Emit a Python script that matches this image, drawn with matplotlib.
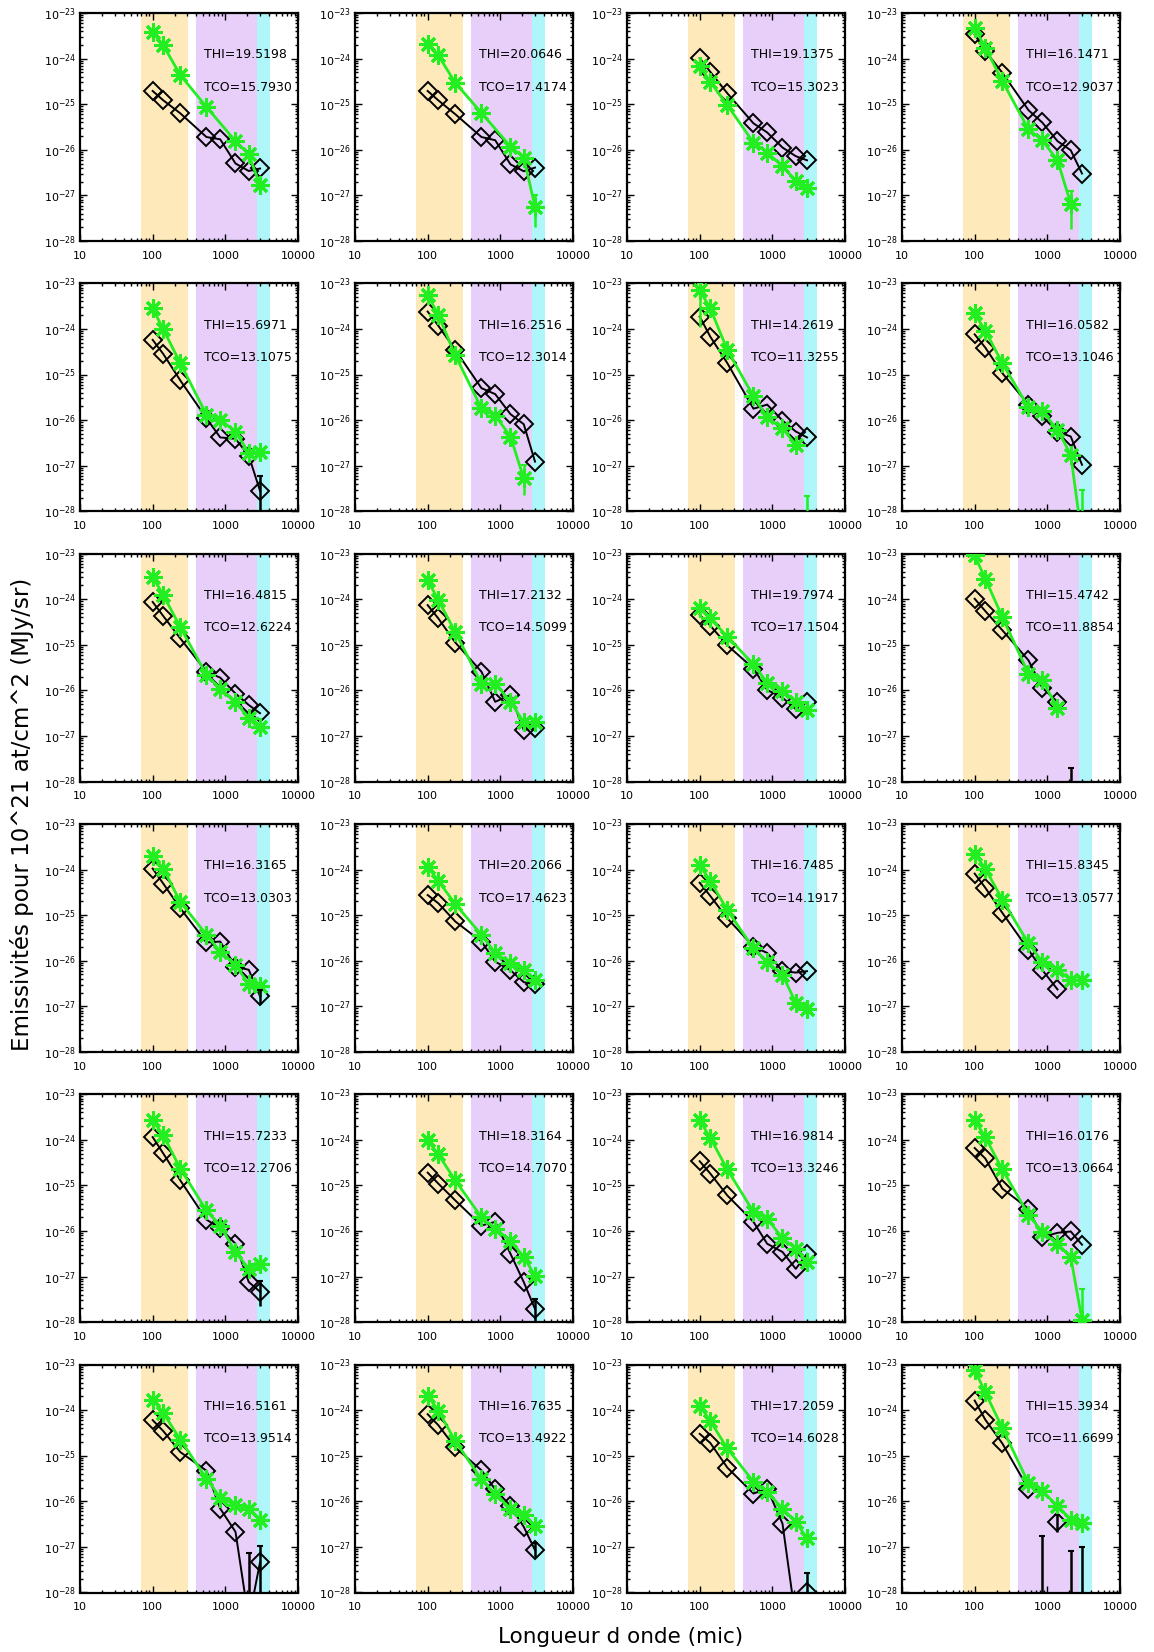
import numpy as np
import matplotlib
matplotlib.use("Agg")
import matplotlib.pyplot as plt
from matplotlib.ticker import FuncFormatter, FixedLocator, NullFormatter

nan = np.nan

# Wavelengths (microns)
WAVELENGTHS = [100, 140, 240, 550, 850, 1380, 2100, 3000]

# Axis ticks
X_TICKS = [10, 100, 1000, 10000]
Y_TICK_EXPONENTS = [-28, -27, -26, -25, -24, -23]

# Fitted temperatures per panel
THI = [19.5198, 20.0646, 19.1375, 16.1471,
       15.6971, 16.2516, 14.2619, 16.0582,
       16.4815, 17.2132, 19.7974, 15.4742,
       16.3165, 20.2066, 16.7485, 15.8345,
       15.7233, 18.3164, 16.9814, 16.0176,
       16.5161, 16.7635, 17.2059, 15.3934]
TCO = [15.7930, 17.4174, 15.3023, 12.9037,
       13.1075, 12.3014, 11.3255, 13.1046,
       12.6224, 14.5099, 17.1504, 11.8854,
       13.0303, 17.4623, 14.1917, 13.0577,
       12.2706, 14.7070, 13.3246, 13.0664,
       13.9514, 13.4922, 14.6028, 11.6699]

# log10 of emissivities: black diamonds (nan = missing, line broken)
BLACK_LOG = [
    [-24.71, -24.915, -25.20, -25.72, -25.77, -26.30, -26.465, -26.41],
    [-24.71, -24.915, -25.22, -25.72, -25.79, -26.32, -26.47, -26.39],
    [-23.99, -24.29, -24.76, -25.42, -25.62, -25.95, -26.14, -26.23],
    [-23.47, -23.83, -24.31, -25.13, -25.40, -25.81, -26.01, -26.52],
    [-24.24, -24.55, -25.13, -25.96, -26.38, -26.41, -26.78, -27.55],
    [-23.62, -23.93, -24.46, -25.30, -25.43, -25.87, -26.09, -26.91],
    [-23.73, -24.17, -24.75, -25.75, -25.66, -26.01, -26.25, -26.38],
    [-24.12, -24.41, -24.97, -25.66, -25.92, -26.25, -26.36, -26.98],
    [-24.06, -24.37, -24.86, -25.59, -25.72, -26.07, -26.32, -26.50],
    [-24.13, -24.42, -24.95, -25.59, -26.25, -26.10, -26.87, -26.83],
    [-24.34, -24.58, -25.01, -25.52, -25.99, -26.16, -26.41, -26.26],
    [-23.99, -24.26, -24.68, -25.34, -25.94, -26.25, nan, nan],
    [-23.98, -24.31, -24.85, -25.60, -25.58, -26.13, -26.20, -26.78],
    [-24.56, -24.74, -25.14, -25.58, -26.02, -26.21, -26.47, -26.52],
    [-24.29, -24.58, -25.07, -25.69, -25.83, -26.23, -26.26, -26.23],
    [-24.09, -24.40, -24.95, -25.76, -26.20, -26.63, nan, nan],
    [-23.94, -24.30, -24.89, -25.75, -25.94, -26.28, -27.12, -27.33],
    [-24.72, -24.96, -25.33, -25.88, -25.80, -26.50, -27.12, -27.71],
    [-24.47, -24.74, -25.22, -25.80, -26.28, -26.46, -26.83, -26.50],
    [-24.18, -24.41, -25.07, -25.51, -26.13, -26.04, -26.01, -26.30],
    [-24.22, -24.46, -24.92, -25.33, -26.16, -26.67, -28.6, -27.34],
    [-24.09, -24.33, -24.82, -25.32, -25.74, -26.10, -26.56, -27.07],
    [-24.52, -24.72, -25.26, -25.83, -25.72, -26.49, -28.6, -28.0],
    [-23.79, -24.21, -24.73, -25.73, nan, -26.46, nan, nan],
]

# log10 of emissivities: green asterisks (None = missing, line joins neighbours)
GREEN_LOG = [
    [-23.42, -23.71, -24.36, -25.06, None, -25.81, -26.10, -26.78],
    [-23.67, -23.93, -24.53, -25.19, None, -25.93, -26.17, -27.25],
    [-24.16, -24.51, -25.02, -25.84, -26.06, -26.36, -26.68, -26.83],
    [-23.32, -23.76, -24.49, -25.55, -25.79, -26.23, -27.18, nan],
    [-23.55, -24.01, -24.75, -25.88, -25.99, -26.25, -26.72, -26.69],
    [-23.26, -23.69, -24.58, -25.74, -25.90, -26.36, -27.28, nan],
    [-23.15, -23.55, -24.46, -25.48, -25.94, -26.18, -26.54, nan],
    [-23.66, -24.04, -24.75, -25.72, -25.81, -26.21, -26.76, -28.6],
    [-23.51, -23.91, -24.61, -25.66, -25.96, -26.25, -26.61, -26.80],
    [-23.58, -24.02, -24.72, -25.85, -25.85, -26.25, -26.70, -26.70],
    [-24.20, -24.42, -24.82, -25.43, -25.83, -26.01, -26.25, -26.43],
    [-23.04, -23.55, -24.39, -25.63, -25.77, -26.39, nan, nan],
    [-23.71, -23.98, -24.71, -25.43, -25.80, -26.09, -26.52, -26.56],
    [-23.94, -24.25, -24.76, -25.43, -25.83, -26.05, -26.20, -26.42],
    [-23.91, -24.25, -24.89, -25.73, -26.02, -26.31, -26.92, -27.07],
    [-23.65, -23.98, -24.66, -25.62, -26.02, -26.20, -26.42, -26.42],
    [-23.57, -23.90, -24.63, -25.55, -25.88, -26.46, -26.83, -26.72],
    [-24.01, -24.32, -24.89, -25.70, -25.95, -26.21, -26.57, -26.98],
    [-23.57, -23.96, -24.65, -25.58, -25.73, -26.16, -26.39, -26.68],
    [-23.57, -23.94, -24.65, -25.64, -26.02, -26.28, -26.57, -27.95],
    [-23.77, -24.06, -24.65, -25.50, -25.92, -26.08, -26.16, -26.40],
    [-23.68, -24.01, -24.68, -25.52, -25.84, -26.16, -26.30, -26.54],
    [-23.90, -24.24, -24.84, -25.57, -25.79, -26.16, -26.45, -26.81],
    [-23.12, -23.61, -24.39, -25.60, -25.78, -26.10, -26.40, -26.48],
]

# visible error bars: (panel number, series, wavelength index, log10 low, log10 high)
ERRBARS = [
    (2, 'g', 7, -27.69, -27.0),
    (4, 'g', 6, -27.74, -26.9),
    (5, 'k', 7, -28.5, -27.23),
    (6, 'g', 6, -27.64, -26.98),
    (7, 'g', 0, -23.95, -23.0),
    (7, 'g', 7, -28.5, -27.67),
    (8, 'g', 7, -28.5, -27.53),
    (12, 'k', 6, -28.5, -27.71),
    (13, 'k', 7, -26.95, -26.65),
    (17, 'k', 7, -27.64, -27.1),
    (18, 'k', 7, -28.5, -27.5),
    (20, 'g', 7, -28.5, -27.27),
    (21, 'k', 6, -28.5, -27.14),
    (21, 'k', 7, -28.5, -26.99),
    (22, 'k', 7, -27.22, -26.92),
    (23, 'k', 7, -28.5, -27.58),
    (24, 'k', 4, -28.5, -26.77),
    (24, 'k', 5, -26.68, -26.3),
    (24, 'k', 6, -28.5, -27.08),
    (24, 'k', 7, -28.5, -27.00),
]

# shaded wavelength ranges (microns)
BANDS = [(70, 305, '#fde9b9'), (390, 2700, '#e7cff9'), (2700, 4100, '#aef6f9')]

GREEN = '#22ee22'
FIG_W, FIG_H = 1154, 1652
COL_LEFT = [80, 355, 627, 902]
ROW_TOP0, ROW_PITCH = 13, 270.3
AX_W, AX_H = 218, 228

fig = plt.figure(figsize=(FIG_W / 100, FIG_H / 100), dpi=100)


def series_xy(vals):
    xs, ys = [], []
    for w, v in zip(WAVELENGTHS, vals):
        if v is None:
            continue
        xs.append(w)
        ys.append(10.0 ** v if not np.isnan(v) else np.nan)
    return xs, ys


x_major = [float(v) for v in X_TICKS]
x_minor = [m * 10.0 ** e for e in range(1, 4) for m in range(2, 10)]
y_major = [10.0 ** e for e in Y_TICK_EXPONENTS]
y_minor = [m * 10.0 ** e for e in Y_TICK_EXPONENTS[:-1] for m in range(2, 10)]

xfmt = FuncFormatter(lambda v, p: f"{int(round(v))}")
yfmt = FuncFormatter(lambda v, p: r"$\mathdefault{10^{%d}}$" % int(round(np.log10(v))))

for i in range(24):
    r, c = divmod(i, 4)
    top = ROW_TOP0 + ROW_PITCH * r
    ax = fig.add_axes([COL_LEFT[c] / FIG_W, 1 - (top + AX_H) / FIG_H,
                       AX_W / FIG_W, AX_H / FIG_H])
    ax.set_xscale('log')
    ax.set_yscale('log')
    ax.set_xlim(10, 10000)
    ax.set_ylim(1e-28, 1e-23)

    for lo, hi, col in BANDS:
        ax.axvspan(lo, hi, color=col, lw=0, zorder=0)

    xk, yk = series_xy(BLACK_LOG[i])
    ax.plot(xk, yk, color='black', lw=1.4, marker='D', ms=9,
            mfc='none', mec='black', mew=1.4, zorder=3)
    xg, yg = series_xy(GREEN_LOG[i])
    ax.plot(xg, yg, color=GREEN, lw=2.0, marker=(8, 2, 0), ms=13,
            mec=GREEN, mew=2.2, zorder=4)

    for (p, s, idx, lo, hi) in ERRBARS:
        if p != i + 1:
            continue
        col = 'black' if s == 'k' else GREEN
        ax.vlines(WAVELENGTHS[idx], 10.0 ** lo, 10.0 ** hi, color=col,
                  lw=1.8, zorder=5)
        ax.plot([WAVELENGTHS[idx]], [10.0 ** hi], marker='_', ms=4,
                mew=1.5, color=col, zorder=5)

    ax.text(0.568, 0.816, f"THI={THI[i]:.4f}", transform=ax.transAxes,
            fontsize=9, va='center', ha='left', clip_on=True, zorder=6)
    ax.text(0.568, 0.675, f"TCO={TCO[i]:.4f}", transform=ax.transAxes,
            fontsize=9, va='center', ha='left', clip_on=True, zorder=6)

    ax.xaxis.set_major_locator(FixedLocator(x_major))
    ax.xaxis.set_minor_locator(FixedLocator(x_minor))
    ax.yaxis.set_major_locator(FixedLocator(y_major))
    ax.yaxis.set_minor_locator(FixedLocator(y_minor))
    ax.xaxis.set_major_formatter(xfmt)
    ax.yaxis.set_major_formatter(yfmt)
    ax.xaxis.set_minor_formatter(NullFormatter())
    ax.yaxis.set_minor_formatter(NullFormatter())
    ax.tick_params(which='both', direction='in', top=True, right=True, width=1.0)
    ax.tick_params(which='major', length=5)
    ax.tick_params(which='minor', length=2.5)
    ax.tick_params(axis='x', which='major', labelsize=8, pad=7)
    ax.tick_params(axis='y', which='major', labelsize=8, pad=3)
    for sp in ax.spines.values():
        sp.set_linewidth(1.6)

fig.text(22 / FIG_W, 1 - 814 / FIG_H, "Emissivités pour 10^21 at/cm^2 (MJy/sr)",
         rotation=90, ha='center', va='center', fontsize=16.5)
fig.text(621 / FIG_W, 1 - 1637 / FIG_H, "Longueur d onde (mic)",
         ha='center', va='center', fontsize=15.5)

fig.savefig("out.png", dpi=100)
